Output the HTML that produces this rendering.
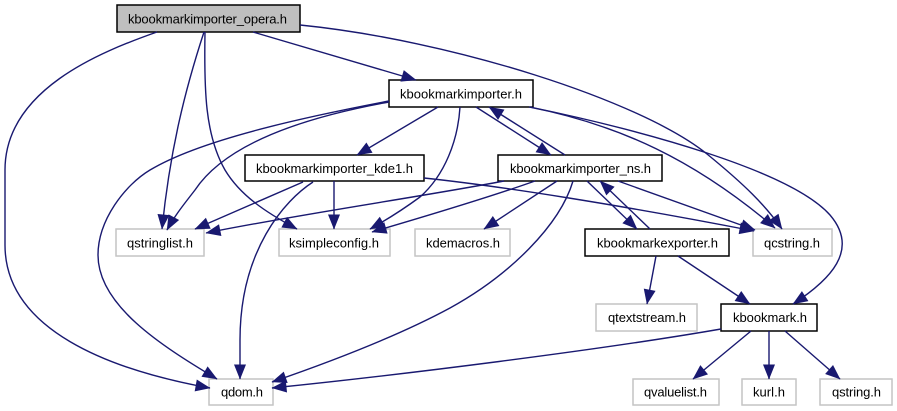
<!DOCTYPE html>
<html><head><meta charset="utf-8">
<style>
html,body{margin:0;padding:0;background:#fff;width:897px;height:411px;overflow:hidden}
svg{display:block}
text{font-family:"Liberation Sans",Arial,sans-serif;font-size:13px;fill:#000}
.e{fill:none;stroke:#191970;stroke-width:1.4;marker-end:url(#a)}
.k{fill:#fff;stroke:#000;stroke-width:1.5}
.g{fill:#fff;stroke:#c4c4c4;stroke-width:1.5}
</style></head><body>
<svg width="897" height="411" viewBox="0 0 897 411" xmlns="http://www.w3.org/2000/svg">
<defs><marker id="a" markerUnits="userSpaceOnUse" markerWidth="18" markerHeight="14" refX="14.5" refY="6" orient="auto" overflow="visible"><path d="M0,0L15,6L0,12z" fill="#191970"/></marker></defs>

<rect x="117" y="5" width="183" height="27" fill="#bfbfbf" stroke="#000" stroke-width="1.5"/>
<text x="128" y="23.5" textLength="159">kbookmarkimporter_opera.h</text>
<rect class="k" x="389" y="80" width="144" height="27"/>
<text x="400" y="98.5" textLength="122">kbookmarkimporter.h</text>
<rect class="k" x="245" y="155" width="179" height="26"/>
<text x="256" y="173" textLength="157">kbookmarkimporter_kde1.h</text>
<rect class="k" x="498" y="155" width="164" height="26"/>
<text x="510" y="173" textLength="141">kbookmarkimporter_ns.h</text>
<rect class="g" x="116" y="229" width="88" height="27"/>
<text x="127" y="247.5" textLength="66">qstringlist.h</text>
<rect class="g" x="279" y="229" width="111" height="27"/>
<text x="289" y="247.5" textLength="90">ksimpleconfig.h</text>
<rect class="g" x="415" y="229" width="95" height="27"/>
<text x="426" y="247.5" textLength="74">kdemacros.h</text>
<rect class="k" x="585" y="229" width="144" height="27"/>
<text x="597" y="247.5" textLength="121">kbookmarkexporter.h</text>
<rect class="g" x="753" y="229" width="79" height="27"/>
<text x="764" y="247.5" textLength="56">qcstring.h</text>
<rect class="g" x="596" y="304" width="101" height="27"/>
<text x="608" y="322" textLength="78">qtextstream.h</text>
<rect class="k" x="721" y="304" width="96" height="27"/>
<text x="733" y="322" textLength="74">kbookmark.h</text>
<rect class="g" x="209" y="379" width="64" height="26"/>
<text x="221" y="396.5" textLength="42">qdom.h</text>
<rect class="g" x="633" y="379" width="86" height="26"/>
<text x="644" y="396.5" textLength="63">qvaluelist.h</text>
<rect class="g" x="742" y="379" width="54" height="26"/>
<text x="753" y="396.5" textLength="32">kurl.h</text>
<rect class="g" x="820" y="379" width="72" height="26"/>
<text x="832" y="396.5" textLength="49">qstring.h</text>

<path class="e" d="M157,32C100,52 5,90 5,170L5,245C5,330 110,370 210,388"/>
<path class="e" d="M204,32C185,90 170,150 162,229"/>
<path class="e" d="M205,32C204,90 205,135 225,170C240,195 265,212 297,229"/>
<path class="e" d="M253,32L416,80"/>
<path class="e" d="M300,25C450,40 640,100 707,154C745,185 765,205 782,229"/>
<path class="e" d="M389,101C300,118 200,140 150,170C125,185 98,220 98,255C98,305 160,345 217,379"/>
<path class="e" d="M389,102C300,118 225,145 195,190C185,203 175,215 167,230"/>
<path class="e" d="M438,107L357,155"/>
<path class="e" d="M460,107C458,140 445,175 420,197C405,208 390,218 370,229"/>
<path class="e" d="M476,107L551,155"/>
<path class="e" d="M565,155L489,107"/>
<path class="e" d="M529,107C620,125 695,160 775,228"/>
<path class="e" d="M530,107C640,130 790,170 830,215C860,250 830,280 793,304"/>
<path class="e" d="M303,182L195,229"/>
<path class="e" d="M313,182C285,200 240,250 240,340L240,379"/>
<path class="e" d="M334,181L334,229"/>
<path class="e" d="M424,178C500,186 620,205 754,231"/>
<path class="e" d="M504,181C420,197 300,214 206,233"/>
<path class="e" d="M535,181C490,197 430,215 372,232"/>
<path class="e" d="M557,181L484,229"/>
<path class="e" d="M573,181C560,225 510,275 450,308C400,335 330,362 272,382"/>
<path class="e" d="M587,181L637,229"/>
<path class="e" d="M650,229L600,181"/>
<path class="e" d="M618,181L755,230"/>
<path class="e" d="M656,256L647,304"/>
<path class="e" d="M678,256L750,304"/>
<path class="e" d="M721,329C600,350 400,375 272,388"/>
<path class="e" d="M751,331L693,379"/>
<path class="e" d="M769,331L769,379"/>
<path class="e" d="M785,331L840,379"/>
</svg>
</body></html>
